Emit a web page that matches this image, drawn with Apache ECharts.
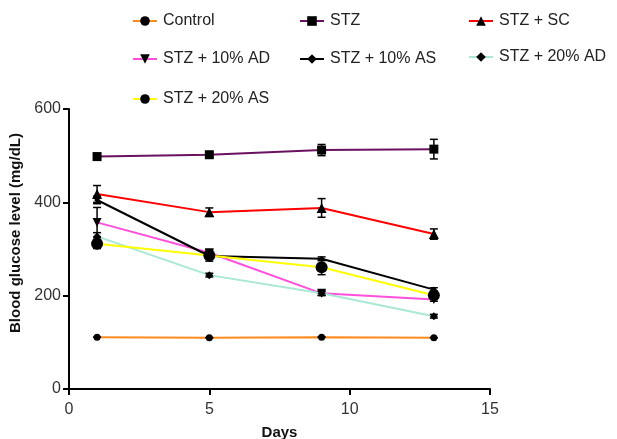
<!DOCTYPE html>
<html><head><meta charset="utf-8">
<script src="https://cdn.jsdelivr.net/npm/echarts@6/dist/echarts.min.js"></script>
<style>html,body{margin:0;padding:0;background:#fff}#c{width:617px;height:439px}</style>
</head><body><div id="c"></div>
<script>
const days = [1, 5, 9, 13];
const seriesNames = ['Control','STZ','STZ + SC','STZ + 10% AD','STZ + 10% AS','STZ + 20% AD','STZ + 20% AS'];
const control = [111, 110, 111, 110];
const stz = [498, 502, 512, 514];
const stzSC = [418, 379, 388, 332];
const stz10AD = [357, 292, 205, 192];
const stz10AS = [405, 285, 279, 213];
const stz20AD = [327, 244, 205, 156];
const stz20AS = [311, 286, 261, 201];
const errControl = [0, 0, 0, 0];
const errSTZ = [7, 4, 12, 21];
const errSC = [18, 9, 20, 11];
const err10AD = [32, 6, 5, 4];
const err10AS = [8, 5, 4, 4];
const err20AD = [8, 4, 4, 4];
const err20AS = [10, 12, 16, 9];
const xTicks = [0, 5, 10, 15];
const yTicks = [0, 200, 400, 600];

const colors = ['#ff8a1e','#6a1260','#ff0000','#ff4fdc','#000000','#a9e8d4','#ffff00'];
const symbols = ['circle','rect','triangle','triangle','diamond','diamond','circle'];
const sizes = [7, 9, 10, 9, 6, 8, 12];
const rot = [0,0,0,180,0,0,0];
const values = [control, stz, stzSC, stz10AD, stz10AS, stz20AD, stz20AS];
const errs = [errControl, errSTZ, errSC, err10AD, err10AS, err20AD, err20AS];

const series = [];
values.forEach((v, i) => {
  series.push({
    name: seriesNames[i], type: 'line',
    data: days.map((d, k) => [d, v[k]]),
    symbol: symbols[i], symbolSize: sizes[i], symbolRotate: rot[i],
    itemStyle: {color: '#000'},
    lineStyle: {color: colors[i], width: 2},
    z: 3 + i, animation: false
  });
  series.push({
    type: 'custom', name: seriesNames[i] + ' err',
    data: days.map((d, k) => [d, v[k] - errs[i][k], v[k] + errs[i][k]]),
    renderItem: function (params, api) {
      const lo = api.coord([api.value(0), api.value(1)]);
      const hi = api.coord([api.value(0), api.value(2)]);
      const w = 4;
      const st = {stroke: '#000', lineWidth: 1.5};
      return {type: 'group', children: [
        {type: 'line', shape: {x1: lo[0], y1: lo[1], x2: hi[0], y2: hi[1]}, style: st},
        {type: 'line', shape: {x1: hi[0]-w, y1: hi[1], x2: hi[0]+w, y2: hi[1]}, style: st},
        {type: 'line', shape: {x1: lo[0]-w, y1: lo[1], x2: lo[0]+w, y2: lo[1]}, style: st}
      ]};
    },
    z: 10, animation: false, silent: true
  });
});

const legendPos = [[127,8],[294,8],[463,8],[127,46],[294,46],[463,44],[127,86]];
const legends = seriesNames.map((n, i) => ({
  data: [n], left: legendPos[i][0], top: legendPos[i][1],
  itemWidth: 24, itemHeight: 12, selectedMode: false,
  textStyle: {fontFamily: 'Liberation Sans', fontSize: 16, color: '#222', padding: [0,0,0,1]}
}));

const chart = echarts.init(document.getElementById('c'), null, {renderer: 'canvas'});
chart.setOption({
  animation: false,
  legend: legends,
  grid: {left: 69, right: 127, top: 109, bottom: 50, containLabel: false, outerBoundsMode: 'none'},
  xAxis: {
    type: 'value', min: 0, max: 15, interval: 5,
    name: 'Days', nameLocation: 'middle', nameGap: 36,
    nameTextStyle: {fontFamily: 'Liberation Sans', fontSize: 15, fontWeight: 'bold', color: '#111'},
    axisLine: {lineStyle: {color: '#000', width: 2}},
    axisTick: {length: 6, lineStyle: {color: '#000', width: 2}},
    axisLabel: {fontFamily: 'Liberation Sans', fontSize: 16, color: '#333', margin: 13,
      formatter: v => xTicks.includes(v) ? String(v) : ''},
    splitLine: {show: false}
  },
  yAxis: {
    type: 'value', min: 0, max: 600, interval: 200,
    name: 'Blood glucose level (mg/dL)', nameLocation: 'middle', nameGap: 41,
    nameTextStyle: {fontFamily: 'Liberation Sans', fontSize: 15, fontWeight: 'bold', color: '#111', padding: [0,0,0,32]},
    axisLine: {show: true, lineStyle: {color: '#000', width: 2}},
    axisTick: {show: true, length: 6, lineStyle: {color: '#000', width: 2}},
    axisLabel: {fontFamily: 'Liberation Sans', fontSize: 16, color: '#333', margin: 8,
      formatter: v => yTicks.includes(v) ? String(v) : ''},
    splitLine: {show: false}
  },
  series: series
});
</script></body></html>
